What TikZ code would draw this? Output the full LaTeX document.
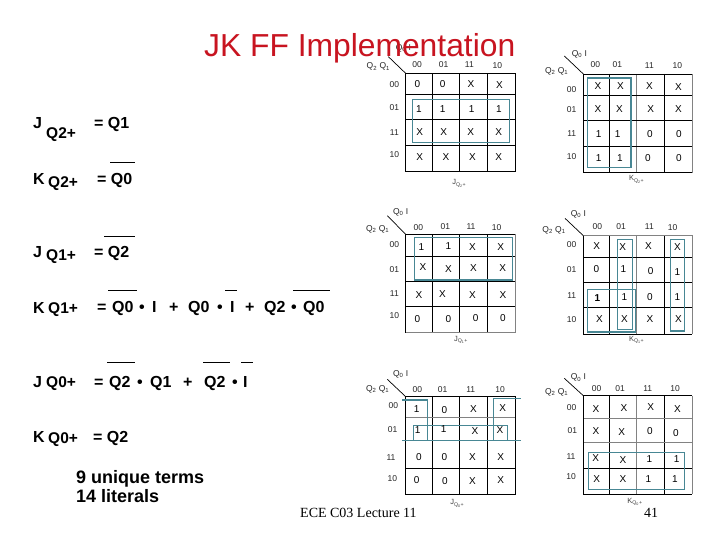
\documentclass[tikz,border=0pt]{standalone}
\usepackage{fontspec}
\setmainfont{Liberation Sans}
\newfontfamily\serifface{Liberation Serif}
\definecolor{boxteal}{RGB}{72,135,148}
\definecolor{titlered}{RGB}{200,20,32}
\definecolor{gridgrey}{RGB}{130,130,130}
\newcommand{\qsub}[1]{Q\textsubscript{#1}}
\tikzset{
  x=1pt,y=-1pt,
  zoomed/.style={x=0.33333pt,y=-0.33333pt},
  cellt/.style={inner sep=0pt,font=\fontsize{10}{11}\selectfont},
  headt/.style={inner sep=0pt,font=\fontsize{8.5}{9}\selectfont,text=black!85},
  mapt/.style={inner sep=0pt,font=\fontsize{7.5}{8}\selectfont,text=black!75},
  gridk/.style={black,line width=0.9pt},
  gridg/.style={gridgrey,line width=0.9pt},
  gridh/.style={black,line width=1.5pt},
  tealbox/.style={boxteal,line width=1.2pt},
  diag/.style={black,line width=0.7pt},
  eq/.style={inner sep=0pt,anchor=base west,font=\fontsize{16}{18}\selectfont\bfseries},
  eqsub/.style={inner sep=0pt,anchor=base west,font=\fontsize{15.5}{18}\selectfont\bfseries},
  notet/.style={inner sep=0pt,anchor=base west,font=\fontsize{18}{20}\selectfont\bfseries},
  barline/.style={black,line width=1pt},
}
\newcommand{\kmaptext}[2]{%
  \foreach \x/\y/\t [count=\n] in {#2}{\node[cellt] (#1c\n) at (\x,\y) {\t};}}
\newcommand{\kmaphead}[2]{%
  \foreach \x/\y/\t [count=\n] in {#2}{\node[headt] (#1h\n) at (\x,\y) {\t};}}
\begin{document}
\begin{tikzpicture}
\useasboundingbox (0,0) rectangle (720,540);
\fill[white] (0,0) rectangle (720,540);

% map 1
\begin{scope}[shift={(355,30)},zoomed]
\draw[gridk] (232,130)--(232,423) (313,130)--(313,423) (397,130)--(397,423);
\draw[gridk] (152,192)--(482,192);
\draw[gridk] (152,268)--(482,268);
\draw[gridh] (152,346)--(482,346);
\draw[gridk] (152,130) rectangle (482,423);
\draw[diag] (100,80)--(152,130);
\draw[tealbox] (172,208) rectangle (463,338);
\kmaphead{a}{145/55/{\qsub{0} I},70/110/{Q\textsubscript{2} Q\textsubscript{1}},186/105/00,266/105/01,343/105/11,427/108/10,118/165/00,118/234/01,118/307/11,118/375/10}
\kmaptext{a}{187/163/0,263/163/0,348/163/X,433/165/X,192/236/1,263/236/1,350/236/1,432/236/1,194/305/X,266/305/X,347/305/X,431/305/X,194/381/X,273/381/X,352/381/X,431/381/X}
\node[mapt] (aj) at (313,460) {J\textsubscript{Q\textsubscript{2}+}};
\end{scope}

% map 2
\begin{scope}[shift={(535,30)},zoomed]
\draw[gridk] (223,132)--(223,428) (388,132)--(388,428);
\draw[gridg] (305,132)--(305,428);
\draw[gridh] (145,197)--(472,197) (145,272)--(472,272);
\draw[gridk] (145,349)--(472,349);
\draw[gridk] (145,428)--(145,132)--(472,132);
\draw[gridk] (145,428)--(472,428);
\draw[gridg] (472,132)--(472,428);
\draw[diag] (88,78)--(145,132);
\draw[tealbox] (157,144) rectangle (288,412);
\kmaphead{b}{133/72/{\qsub{0} I},65/123/{Q\textsubscript{2} Q\textsubscript{1}},181/105/00,247/103/01,343/107/11,427/107/10,110/180/00,110/238/01,110/311/11,110/380/10}
\kmaptext{b}{189/167/X,256/167/X,343/167/X,430/170/X,189/237/X,253/237/X,347/237/X,430/237/X,191/312/1,248/312/1,345/312/0,432/312/0,191/383/1,255/383/1,339/383/0,432/383/0}
\node[mapt] (bk) at (305,448) {K\textsubscript{Q\textsubscript{2}+}};
\end{scope}

% map 3
\begin{scope}[shift={(355,200)},zoomed]
\draw[gridk] (232,103)--(232,398) (313,103)--(313,398) (397,103)--(397,398);
\draw[gridk] (152,170)--(482,170) (152,243)--(482,243) (152,320)--(482,320);
\draw[gridk] (152,398)--(152,103);
\draw[gridh] (152,103)--(482,103);
\draw[gridg] (482,103)--(482,398)--(152,398);
\draw[diag] (97,47)--(152,103);
\draw[tealbox] (179,112) rectangle (472,240);
\kmaphead{c}{137/37/{\qsub{0} I},68/87/{Q\textsubscript{2} Q\textsubscript{1}},190/82/00,271/80/01,348/80/11,425/84/10,118/133/00,118/208/01,118/280/11,118/347/10}
\kmaptext{c}{199/140/1,280/138/1,352/142/X,437/142/X,204/202/X,280/208/X,355/203/X,443/204/X,192/285/X,262/283/X,352/286/X,444/285/X,187/356/0,280/356/0,362/354/0,444/354/0}
\node[mapt] (cj) at (318,420) {J\textsubscript{Q\textsubscript{1}+}};
\end{scope}

% map 4
\begin{scope}[shift={(535,200)},zoomed]
\draw[gridk] (223,107)--(223,403) (388,107)--(388,403);
\draw[gridg] (305,107)--(305,403);
\draw[gridk] (145,172)--(472,172) (145,248)--(472,248) (145,323)--(472,323);
\draw[gridk] (145,107)--(145,403)--(472,403);
\draw[gridg] (145,107)--(472,107)--(472,403);
\draw[diag] (90,55)--(145,107);
\draw[tealbox] (247,118) rectangle (292,388);
\draw[tealbox] (407,118) rectangle (448,393);
\draw[tealbox] (157,268) rectangle (302,396);
\kmaphead{d}{130/42/{\qsub{0} I},57/90/{Q\textsubscript{2} Q\textsubscript{1}},187/81/00,258/80/01,343/81/11,413/82/10,110/135/00,110/210/01,110/287/11,110/358/10}
\kmaptext{d}{185/138/X,263/140/X,340/138/X,427/140/X,184/208/0,265/208/1,347/212/0,427/215/1,187/293/\textbf{1},268/292/1,345/292/0,427/292/1,193/356/X,268/356/X,345/358/X,430/358/X}
\node[mapt] (dk) at (305,420) {K\textsubscript{Q\textsubscript{1}+}};
\end{scope}

% map 5
\begin{scope}[shift={(355,360)},zoomed]
\draw[gridk] (232,110)--(232,404) (313,110)--(313,404) (397,110)--(397,404);
\draw[gridg] (152,173)--(482,173);
\draw[gridk] (152,325)--(482,325);
\draw[gridk] (152,404)--(152,110)--(482,110)--(482,404)--cycle;
\draw[diag] (97,58)--(152,110);
\draw[tealbox] (142,120)--(217,120)--(217,240);
\draw[tealbox] (497,115)--(415,115)--(415,240);
\draw[tealbox] (175,242)--(175,197)--(457,197)--(457,242);
\draw[boxteal,line width=1.5pt] (142,242)--(497,242);
\kmaphead{e}{137/43/{\qsub{0} I},68/88/{Q\textsubscript{2} Q\textsubscript{1}},187/90/00,263/88/01,347/88/11,435/88/10,115/138/00,113/210/01,108/293/11,112/355/10}
\kmaptext{e}{185/147/1,268/150/0,355/147/X,443/143/X,188/210/1,266/208/1,360/213/X,435/210/X,192/290/0,268/290/0,352/292/X,437/292/X,185/360/0,270/364/0,352/364/X,437/360/X}
\node[mapt] (ej) at (307,430) {J\textsubscript{Q\textsubscript{0}+}};
\end{scope}

% map 6
\begin{scope}[shift={(535,360)},zoomed]
\draw[gridk] (223,107)--(223,403) (388,107)--(388,403);
\draw[gridg] (305,107)--(305,403);
\draw[gridg] (145,175)--(472,175) (145,248)--(472,248);
\draw[gridk] (145,325)--(472,325);
\draw[gridk] (145,403)--(145,107)--(472,107);
\draw[gridk] (145,403)--(472,403);
\draw[gridg] (472,107)--(472,403);
\draw[diag] (88,55)--(145,107);
\draw[tealbox] (160,278) rectangle (448,388);
\kmaphead{f}{130/53/{\qsub{0} I},65/97/{Q\textsubscript{2} Q\textsubscript{1}},185/87/00,255/87/01,338/85/11,420/87/10,110/142/00,112/212/01,108/290/11,108/350/10}
\kmaptext{f}{183/146/X,267/143/X,347/142/X,427/146/X,183/213/X,260/217/X,345/213/0,423/218/0,182/294/X,264/299/X,343/297/1,425/297/1,185/356/X,264/358/X,340/358/1,420/358/1}
\node[mapt] (fk) at (300,425) {K\textsubscript{Q\textsubscript{0}+}};
\end{scope}

% title
\node[inner sep=0pt,anchor=base west,text=titlered,font=\fontsize{31.8}{34}\selectfont] (title) at (204,57) {JK FF Implementation};

% equations
\node[eq] (j2) at (33,129) {J};
\node[eqsub] (j2s) at (46,139) {Q2+};
\node[eq] (j2e) at (94,129) {= Q1};
\node[eq] (k2) at (33,185) {K};
\node[eqsub] (k2s) at (48,188) {Q2+};
\node[eq] (k2e) at (97,185) {= Q0};
\node[eq] (j1) at (33,257) {J};
\node[eqsub] (j1s) at (46,260) {Q1+};
\node[eq] (j1e) at (94,257) {= Q2};
\node[eq] (k1) at (33,313) {K};
\node[eqsub] (k1s) at (48,313) {Q1+};
\foreach \x/\t [count=\n] in {97/=,112/Q0,139/•,152/I,169/+,188/Q0,217/•,230/I,245/+,264/Q2,291/•,303/Q0}
  {\node[eq] (k1p\n) at (\x,312) {\t};}
\node[eq] (j0) at (33,387) {J};
\node[eqsub] (j0s) at (46,387) {Q0+};
\foreach \x/\t [count=\n] in {94/=,109/Q2,137/•,150/Q1,183/+,204/Q2,232/•,243/I}
  {\node[eq] (j0p\n) at (\x,387) {\t};}
\node[eq] (k0) at (33,442) {K};
\node[eqsub] (k0s) at (48,443) {Q0+};
\node[eq] (k0e) at (93,442) {= Q2};
\node[notet] (n1) at (76,483) {9 unique terms};
\node[notet] (n2) at (76,502) {14 literals};

% overbars
\draw[barline] (110,163)--(135,163);
\draw[barline] (104,236)--(135,236);
\draw[barline] (108,290)--(137,290) (225,290)--(237,290) (293,290)--(330,290);
\draw[barline] (107,362)--(135,362) (203,362)--(230,362) (241,362)--(253,362);

% footer
\node[inner sep=0pt,anchor=base west,font=\serifface\fontsize{14}{15}\selectfont] (foot) at (300,517) {ECE C03 Lecture 11};
\node[inner sep=0pt,anchor=base west,font=\serifface\fontsize{14}{15}\selectfont] (page) at (644,517) {41};
\end{tikzpicture}
\end{document}
